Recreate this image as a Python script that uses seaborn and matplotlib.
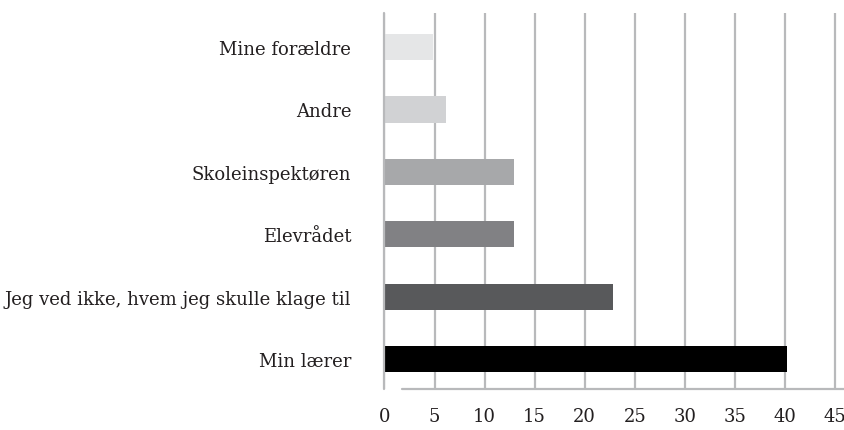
import numpy as np
import matplotlib
matplotlib.use("Agg")
import matplotlib.pyplot as plt
import pandas as pd
import seaborn as sns

# data, bottom to top as in the picture
categories = ["Min lærer", "Jeg ved ikke, hvem jeg skulle klage til", "Elevrådet",
              "Skoleinspektøren", "Andre", "Mine forældre"]
values = [40.2, 22.8, 12.9, 12.9, 6.1, 4.8]
bar_colors = ["#000000", "#58595b", "#808184", "#a7a8aa", "#d1d2d4", "#e5e6e7"]
xticks = [0, 5, 10, 15, 20, 25, 30, 35, 40, 45]

sns.set_style("white")
plt.rcParams['font.family'] = ['DejaVu Serif']

df = pd.DataFrame({"kategori": categories[::-1], "antal": values[::-1]})
grid_col = "#b8b9bb"
text_col = "#231f20"

fig = plt.figure(figsize=(8.45, 4.31), dpi=100)
ax = fig.add_axes([384.5 / 845, 1 - 390 / 431, 1 - 384.5 / 845, (390 - 14) / 431])

sns.barplot(data=df, y="kategori", x="antal", hue="kategori",
            palette=bar_colors[::-1], orient="h", width=0.42,
            linewidth=0, legend=False, ax=ax, zorder=3)

n = len(categories)
ax.set_xlim(0, 46)
ax.set_ylim(n - 1 + 0.48, -0.545)
ax.set_xticks(xticks)
ax.xaxis.grid(True, color=grid_col, linewidth=1.6, zorder=0)
ax.set_axisbelow(True)
for s in ax.spines.values():
    s.set_visible(False)
ax.tick_params(axis="x", length=7.2, width=1.6, color=grid_col, direction="out",
               labelsize=13, pad=6, labelcolor=text_col)
ax.tick_params(axis="y", length=0, labelsize=13, pad=24, labelcolor=text_col)
ax.set_xlabel("")
ax.set_ylabel("")

# zero line sits on top of the bars, not clipped
ax.axvline(0, color=grid_col, linewidth=1.6, clip_on=False, zorder=5)

# bottom axis line, starts a little right of zero
ax.plot([1.75, 46], [n - 1 + 0.48] * 2, color=grid_col, linewidth=1.6,
        clip_on=False, zorder=1)

fig.savefig("out.png", dpi=100)
